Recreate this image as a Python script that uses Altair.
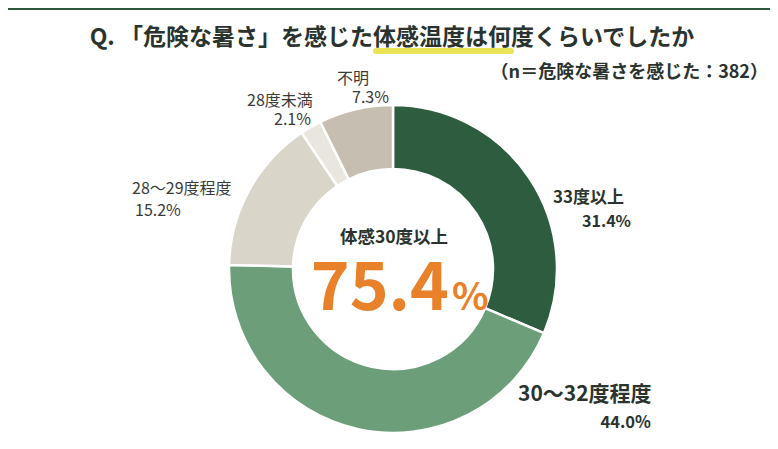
import altair as alt
import pandas as pd

# データ
categories = ["33度以上", "30～32度程度", "28～29度程度", "28度未満", "不明"]
shares = [31.4, 44.0, 15.2, 2.1, 7.3]
colors = ["#2d5d3e", "#6c9f79", "#d9d5c9", "#e9e6dd", "#c5beb1"]

title_text = "Q. 「危険な暑さ」を感じた体感温度は何度くらいでしたか"
subtitle_text = "（n＝危険な暑さを感じた：382）"
center_caption = "体感30度以上"
center_value = f"{shares[0] + shares[1]:.1f}"

FONT = "Noto Sans CJK JP"
DARK = "#2a332e"
GRAY = "#3a3a3a"
W, H = 762, 433
CX, CY = 385, 261

df = pd.DataFrame({"category": categories, "share": shares, "order": range(len(categories))})

donut = alt.Chart(df).mark_arc(radius=164, radius2=100, stroke="white", strokeWidth=2.5).encode(
    theta=alt.Theta("share:Q", stack=True),
    order=alt.Order("order:Q"),
    color=alt.Color("category:N", scale=alt.Scale(domain=categories, range=colors), legend=None),
    x=alt.value(CX),
    y=alt.value(CY),
)


def label(text, x, y, size, weight="normal", align="left", color=DARK):
    return alt.Chart(pd.DataFrame({"t": [text]})).mark_text(
        font=FONT, fontSize=size, fontWeight=weight, align=align, baseline="middle", color=color
    ).encode(text="t:N", x=alt.value(x), y=alt.value(y))


# 上部の帯とタイトル
top_bar = alt.Chart(pd.DataFrame({"t": [0]})).mark_rect(color="#2d5a3c").encode(
    x=alt.value(-8), x2=alt.value(W + 8), y=alt.value(-8), y2=alt.value(2)
)
highlight = alt.Chart(pd.DataFrame({"t": [0]})).mark_rule(
    color="#e8df3c", strokeWidth=6, opacity=0.85, strokeCap="round"
).encode(x=alt.value(368), x2=alt.value(503), y=alt.value(43))

layers = [
    top_bar,
    highlight,
    label(title_text, 384, 30, 23, "bold", "center"),
    label(subtitle_text, 760, 65, 18, "bold", "right"),
    donut,
    # 右側ラベル
    label(categories[0], 545, 190, 17, "bold"),
    label(f"{shares[0]:.1f}%", 623, 214, 16, "bold", "right"),
    label(categories[1], 510, 387, 21, "bold"),
    label(f"{shares[1]:.1f}%", 643, 415, 16.5, "bold", "right"),
    # 左側ラベル
    label(categories[2], 124, 181, 16, color=GRAY),
    label(f"{shares[2]:.1f}%", 127, 203, 16, color=GRAY),
    label(categories[3], 239, 93, 16, color=GRAY),
    label(f"{shares[3]:.1f}%", 303, 112, 16, "normal", "right", GRAY),
    label(categories[4], 329, 71, 16, color=GRAY),
    label(f"{shares[4]:.1f}%", 381, 90, 16, "normal", "right", GRAY),
    # 中央
    label(center_caption, 386, 230, 17.5, "bold", "center"),
    alt.Chart(pd.DataFrame({"t": [center_value]})).mark_text(
        font=FONT, fontSize=66, fontWeight="bold", align="right", baseline="alphabetic", color="#e8812a"
    ).encode(text="t:N", x=alt.value(441), y=alt.value(302)),
    alt.Chart(pd.DataFrame({"t": ["%"]})).mark_text(
        font=FONT, fontSize=38, fontWeight="bold", align="left", baseline="alphabetic", color="#e8812a"
    ).encode(text="t:N", x=alt.value(444), y=alt.value(302)),
]

chart = alt.layer(*layers).properties(
    width=W, height=H, padding=0, autosize=alt.AutoSizeParams(type="none")
).configure_view(stroke=None)

chart.save("out.html", embed_options={"renderer": "svg", "actions": False})
